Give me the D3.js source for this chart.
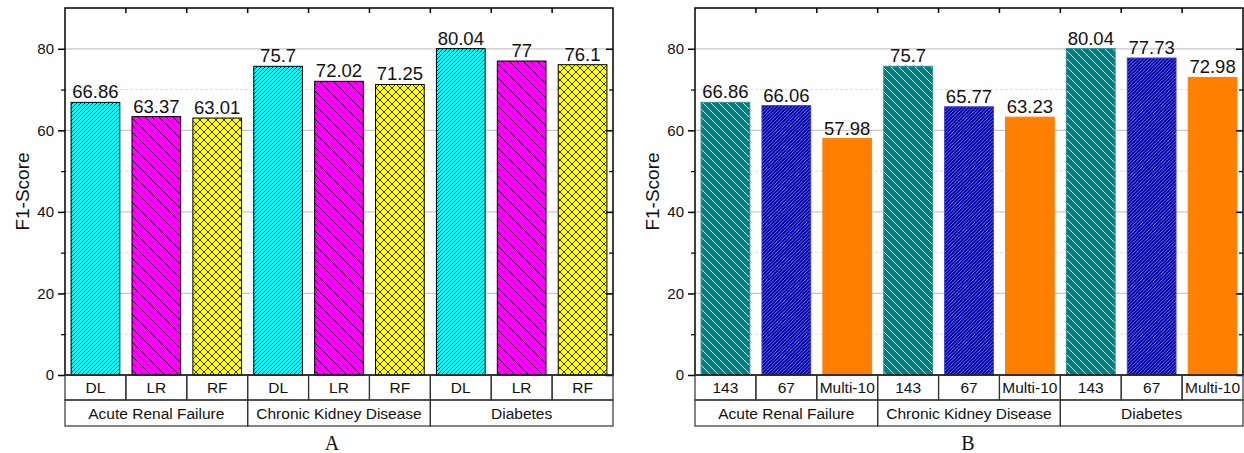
<!DOCTYPE html>
<html>
<head>
<meta charset="utf-8">
<script src="https://cdn.jsdelivr.net/npm/d3@7"></script>
<style>
  body { margin: 0; background: #fff; }
  svg { display: block; }
  text { font-family: "Liberation Sans", Arial, sans-serif; fill: #111; }
</style>
</head>
<body>
<svg id="chart" width="1244" height="453"></svg>
<script>
// ---- data ----
const diseases = ["Acute Renal Failure", "Chronic Kidney Disease", "Diabetes"];

const methodsA = ["DL", "LR", "RF"];
const dlScores = [66.86, 75.7, 80.04];
const lrScores = [63.37, 72.02, 77];
const rfScores = [63.01, 71.25, 76.1];

const featureSets = ["143", "67", "Multi-10"];
const f143Scores = [66.86, 75.7, 80.04];
const f67Scores = [66.06, 65.77, 77.73];
const multi10Scores = [57.98, 63.23, 72.98];

const yTicks = [0, 20, 40, 60, 80];
const yMinorTicks = [10, 30, 50, 70];
const yLabel = "F1-Score";

const svg = d3.select("#chart");
const defs = svg.append("defs");

// hatch patterns
function hatch(id, size, bg, color, width, dirs) {
  const p = defs.append("pattern")
    .attr("id", id)
    .attr("patternUnits", "userSpaceOnUse")
    .attr("width", size).attr("height", size);
  p.append("rect").attr("width", size).attr("height", size).attr("fill", bg);
  const s = size;
  if (dirs.includes("/")) {
    p.append("path")
      .attr("d", `M${-s},${s} L${s},${-s} M0,${s} L${s},0 M0,${2*s} L${2*s},0`)
      .attr("stroke", color).attr("stroke-width", width);
  }
  if (dirs.includes("\\")) {
    p.append("path")
      .attr("d", `M${-s},0 L${s},${2*s} M0,0 L${s},${s} M0,${-s} L${2*s},${s}`)
      .attr("stroke", color).attr("stroke-width", width);
  }
}
hatch("hDL", 4, "#00ffff", "#000", 0.8, "/");
hatch("hLR", 7, "#ff00ff", "#000", 0.8, "\\");
hatch("hRF", 8, "#ffff00", "#000", 0.8, "/\\");
hatch("h143", 8, "#008080", "#d8eeee", 0.9, "\\");
hatch("h67", 3.5, "#0000a8", "#c8c8ff", 0.6, "/");

const panels = [
  {
    left: 65, right: 613, top: 8, bottom: 375, label: "A", labelX: 332,
    methods: methodsA, scores: [dlScores, lrScores, rfScores],
    fills: ["url(#hDL)", "url(#hLR)", "url(#hRF)"],
    strokes: ["#000", "#000", "#000"]
  },
  {
    left: 695, right: 1243, top: 8, bottom: 375, label: "B", labelX: 968,
    methods: featureSets, scores: [f143Scores, f67Scores, multi10Scores],
    fills: ["url(#h143)", "url(#h67)", "#ff8000"],
    strokes: ["#2a8f8f", "#3a3ad0", "#ff8000"]
  }
];

panels.forEach(drawPanel);

function drawPanel(p) {
  const rows = [];
  diseases.forEach((d, di) => {
    p.methods.forEach((m, mi) => {
      rows.push({ key: di + "|" + m, disease: d, method: m, mi, value: p.scores[mi][di] });
    });
  });

  const x = d3.scaleBand()
    .domain(rows.map(r => r.key))
    .range([p.left, p.right])
    .paddingInner(0.2)
    .paddingOuter(0.1);
  const y = d3.scaleLinear().domain([0, 90]).range([p.bottom, p.top]);
  const step = x.step();
  const boundary = i => p.left + i * step;

  const g = svg.append("g");

  // grid
  g.append("g").selectAll("line").data(yMinorTicks).join("line")
    .attr("x1", p.left).attr("x2", p.right)
    .attr("y1", d => y(d)).attr("y2", d => y(d))
    .attr("stroke", "#dcdcdc").attr("stroke-width", 1)
    .attr("stroke-dasharray", "3,2");
  g.append("g").selectAll("line").data(yTicks.filter(d => d > 0)).join("line")
    .attr("x1", p.left).attr("x2", p.right)
    .attr("y1", d => y(d)).attr("y2", d => y(d))
    .attr("stroke", "#c8c8c8").attr("stroke-width", 1.2);

  // bars
  g.append("g").selectAll("rect").data(rows).join("rect")
    .attr("x", d => x(d.key))
    .attr("y", d => y(d.value))
    .attr("width", x.bandwidth())
    .attr("height", d => y(0) - y(d.value))
    .attr("fill", d => p.fills[d.mi])
    .attr("stroke", d => p.strokes[d.mi])
    .attr("stroke-width", 1);

  // value labels
  g.append("g").selectAll("text").data(rows).join("text")
    .attr("x", d => x(d.key) + x.bandwidth() / 2)
    .attr("y", d => y(d.value) - 4)
    .attr("text-anchor", "middle")
    .style("font-size", "18.5px")
    .text(d => String(d.value));

  // frame
  g.append("rect")
    .attr("x", p.left).attr("y", p.top)
    .attr("width", p.right - p.left).attr("height", p.bottom - p.top)
    .attr("fill", "none").attr("stroke", "#000").attr("stroke-width", 1.5);

  // left axis
  const leftAxis = g.append("g")
    .attr("transform", `translate(${p.left},0)`)
    .call(d3.axisLeft(y).tickValues(yTicks).tickSize(7).tickPadding(4).tickFormat(d3.format("d")));
  leftAxis.select(".domain").remove();
  leftAxis.selectAll("line").attr("stroke", "#000").attr("stroke-width", 1.5);
  leftAxis.selectAll("text").style("font-size", "15px").attr("fill", "#111")
    .style("font-family", "'Liberation Sans', Arial, sans-serif");
  const leftMinor = g.append("g")
    .attr("transform", `translate(${p.left},0)`)
    .call(d3.axisLeft(y).tickValues(yMinorTicks).tickSize(4).tickFormat(""));
  leftMinor.select(".domain").remove();
  leftMinor.selectAll("line").attr("stroke", "#000").attr("stroke-width", 1.2);

  // right axis (inward)
  const rightAxis = g.append("g")
    .attr("transform", `translate(${p.right},0)`)
    .call(d3.axisRight(y).tickValues(yTicks).tickSize(-7).tickFormat(""));
  rightAxis.select(".domain").remove();
  rightAxis.selectAll("line").attr("stroke", "#000").attr("stroke-width", 1.5);
  const rightMinor = g.append("g")
    .attr("transform", `translate(${p.right},0)`)
    .call(d3.axisRight(y).tickValues(yMinorTicks).tickSize(-4).tickFormat(""));
  rightMinor.select(".domain").remove();
  rightMinor.selectAll("line").attr("stroke", "#000").attr("stroke-width", 1.2);

  // top ticks at category boundaries (inward)
  g.append("g").selectAll("line").data(d3.range(1, rows.length)).join("line")
    .attr("x1", i => boundary(i)).attr("x2", i => boundary(i))
    .attr("y1", p.top).attr("y2", p.top + 5)
    .attr("stroke", "#000").attr("stroke-width", 1.5);

  // y label
  g.append("text")
    .attr("transform", `translate(${p.left - 43},${(p.top + p.bottom) / 2}) rotate(-90)`)
    .attr("text-anchor", "middle")
    .attr("dy", "0.35em")
    .style("font-size", "19px")
    .text(yLabel);

  // category table
  const row1 = 25, row2 = 26;
  const table = g.append("g");
  table.selectAll("rect.cell1").data(rows).join("rect")
    .attr("class", "cell1")
    .attr("x", (d, i) => boundary(i)).attr("y", p.bottom)
    .attr("width", step).attr("height", row1)
    .attr("fill", "none").attr("stroke", "#333").attr("stroke-width", 1.2);
  table.selectAll("text.lab1").data(rows).join("text")
    .attr("class", "lab1")
    .attr("x", d => x(d.key) + x.bandwidth() / 2)
    .attr("y", p.bottom + row1 / 2)
    .attr("dy", "0.36em")
    .attr("text-anchor", "middle")
    .style("font-size", "15.5px")
    .text(d => d.method);
  const n = p.methods.length;
  table.selectAll("rect.cell2").data(diseases).join("rect")
    .attr("class", "cell2")
    .attr("x", (d, i) => boundary(i * n)).attr("y", p.bottom + row1)
    .attr("width", step * n).attr("height", row2)
    .attr("fill", "none").attr("stroke", "#333").attr("stroke-width", 1.2);
  table.selectAll("text.lab2").data(diseases).join("text")
    .attr("class", "lab2")
    .attr("x", (d, i) => boundary(i * n) + step * n / 2)
    .attr("y", p.bottom + row1 + row2 / 2)
    .attr("dy", "0.36em")
    .attr("text-anchor", "middle")
    .style("font-size", "15.5px")
    .text(d => d);

  // panel letter
  g.append("text")
    .attr("x", p.labelX).attr("y", 450)
    .attr("text-anchor", "middle")
    .style("font-family", "'Liberation Serif', 'Times New Roman', serif")
    .style("font-size", "20px")
    .text(p.label);
}
</script>
</body>
</html>
